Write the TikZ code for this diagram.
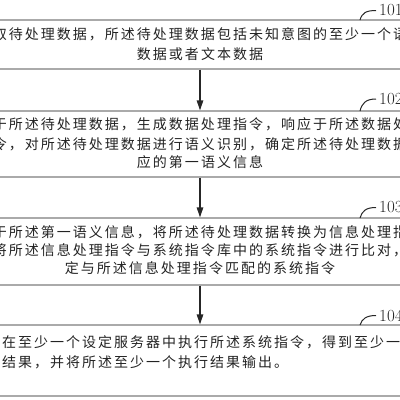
\documentclass[tikz,border=0pt]{standalone}
\usepackage{fontspec}
\usetikzlibrary{arrows.meta}
\newfontfamily\cjk{Noto Sans CJK SC}[LetterSpace=14.3]
\definecolor{boxgray}{RGB}{170,170,170}
\definecolor{txtcol}{RGB}{35,35,35}
\begin{document}
\begin{tikzpicture}[x=1pt,y=-1pt,
  boxline/.style={draw=boxgray, line width=1.3pt, minimum width=460pt, inner sep=0pt},
  txt/.style={font=\cjk\fontsize{14}{16}\selectfont, inner sep=0pt, text=txtcol},
  flow/.style={draw=black!85, line width=1.3pt, -{Triangle[length=10pt,width=6.5pt]}},
  tag/.style={font=\fontsize{17}{19}\selectfont, inner sep=0pt, anchor=west, text=txtcol},
  leader/.style={draw=black!85, line width=1pt}]
\useasboundingbox (0,0) rectangle (400,400);
\clip (0,0) rectangle (400,400);
% boxes
\node[boxline, minimum height=49pt] (b1) at (200,44.5) {};
\node[boxline, minimum height=66pt] (b2) at (200,144) {};
\node[boxline, minimum height=67pt] (b3) at (200,251.5) {};
\node[boxline, minimum height=71pt] (b4) at (200,360.5) {};
% texts box 1
\node[txt] (t11) at (200,34) {获取待处理数据，所述待处理数据包括未知意图的至少一个语音};
\node[txt] (t12) at (200,54) {数据或者文本数据};
% box 2
\node[txt] (t21) at (200,124) {基于所述待处理数据，生成数据处理指令，响应于所述数据处理};
\node[txt] (t22) at (200,144) {指令，对所述待处理数据进行语义识别，确定所述待处理数据对};
\node[txt] (t23) at (200,162.5) {应的第一语义信息};
% box 3
\node[txt] (t31) at (200,232.5) {基于所述第一语义信息，将所述待处理数据转换为信息处理指令};
\node[txt] (t32) at (200,250) {，将所述信息处理指令与系统指令库中的系统指令进行比对，确};
\node[txt] (t33) at (200,268) {定与所述信息处理指令匹配的系统指令};
% box 4
\node[txt, anchor=west] (t41) at (2,342) {在至少一个设定服务器中执行所述系统指令，得到至少一个执行};
\node[txt, anchor=west] (t42) at (2,362) {结果，并将所述至少一个执行结果输出。};
% arrows
\draw[flow] (b1.south) -- (b2.north);
\draw[flow] (b2.south) -- (b3.north);
\draw[flow] (b3.south) -- (b4.north);
% labels
\node[tag] (l1) at (379,10.5) {101};
\node[tag] (l2) at (379,99) {102};
\node[tag] (l3) at (379,207.5) {103};
\node[tag] (l4) at (379,315.5) {104};
\coordinate (c1) at (360,20);
\coordinate (c2) at (360,111);
\coordinate (c3) at (360,218);
\coordinate (c4) at (360,325);
\draw[leader, shorten >=3pt] (c1) .. controls (362,13) and (366,10.5) .. (l1.west);
\draw[leader, shorten >=3pt] (c2) .. controls (362,103) and (366,99) .. (l2.west);
\draw[leader, shorten >=3pt] (c3) .. controls (362,211) and (366,207.5) .. (l3.west);
\draw[leader, shorten >=3pt] (c4) .. controls (362,319) and (366,315.5) .. (l4.west);
\end{tikzpicture}
\end{document}
